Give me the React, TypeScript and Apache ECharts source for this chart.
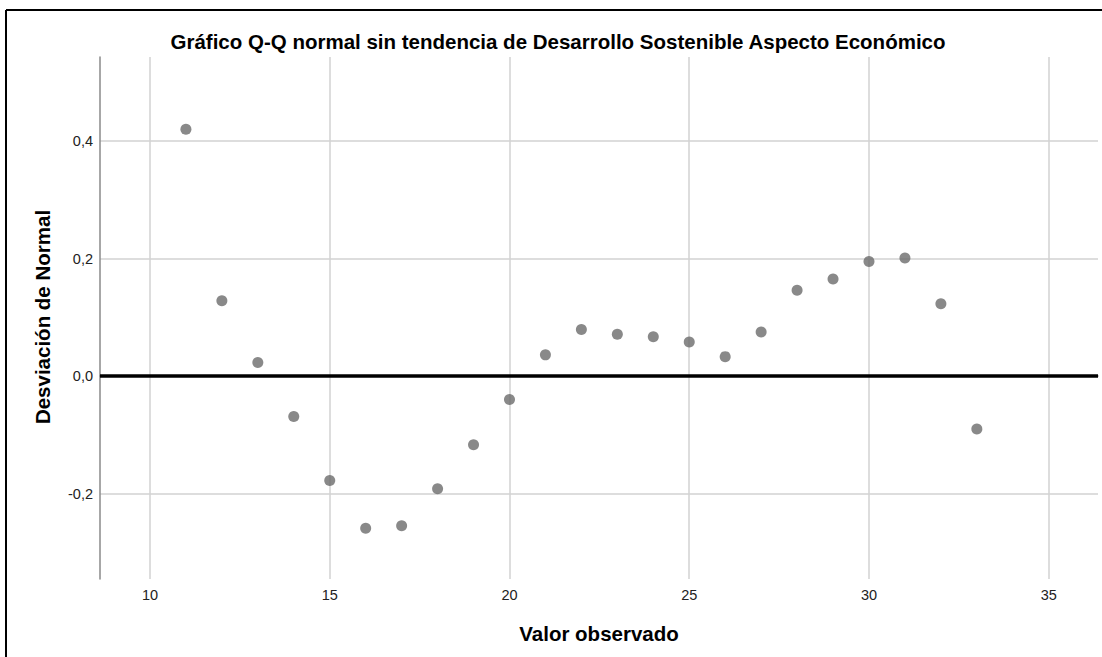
import React, { useEffect, useRef } from "react";
import * as echarts from "echarts";

const titleText = "Gráfico Q-Q normal sin tendencia de Desarrollo Sostenible Aspecto Económico";
const xAxisTitle = "Valor observado";
const yAxisTitle = "Desviación de Normal";

const observedValues = [11, 12, 13, 14, 15, 16, 17, 18, 19, 20, 21, 22, 23, 24, 25, 26, 27, 28, 29, 30, 31, 32, 33];
const deviations = [
  0.42, 0.128, 0.023, -0.069, -0.178, -0.259, -0.255, -0.192, -0.117, -0.04, 0.036, 0.079,
  0.071, 0.067, 0.058, 0.033, 0.075, 0.146, 0.165, 0.195, 0.201, 0.123, -0.09,
];

const xTicks = [10, 15, 20, 25, 30, 35];
const yTicks = [-0.2, 0, 0.2, 0.4];
const xRange = [8.61, 36.37];
const yRange = [-0.3455, 0.543];

export default function App() {
  const ref = useRef<HTMLDivElement>(null);

  useEffect(() => {
    document.body.style.margin = "0";
    if (!ref.current) return;
    const chart = echarts.init(ref.current, null, { renderer: "svg" });
    const font = "Arial, 'Liberation Sans', Helvetica, sans-serif";
    const points = observedValues.map((x, i) => [x, deviations[i]]);

    chart.setOption({
      animation: false,
      backgroundColor: "#ffffff",
      grid: { left: 100, top: 57, right: 4, bottom: 78 },
      xAxis: {
        type: "value",
        min: xRange[0],
        max: xRange[1],
        axisLine: { show: true, lineStyle: { color: "#8a8a8a", width: 1.5 } },
        axisTick: { show: false, customValues: xTicks },
        axisLabel: {
          customValues: xTicks,
          color: "#222",
          fontFamily: font,
          fontSize: 14.5,
          margin: 8,
          formatter: (v: number) => String(Math.round(v)),
        },
        splitLine: { show: true, lineStyle: { color: "#d2d2d2", width: 1.5 } },
      },
      yAxis: {
        type: "value",
        min: yRange[0],
        max: yRange[1],
        axisLine: { show: true, lineStyle: { color: "#8a8a8a", width: 1.5 } },
        axisTick: { show: false, customValues: yTicks },
        axisLabel: {
          customValues: yTicks,
          color: "#222",
          fontFamily: font,
          fontSize: 14.5,
          margin: 7,
          formatter: (v: number) => v.toFixed(1).replace(".", ","),
        },
        splitLine: { show: true, lineStyle: { color: "#d2d2d2", width: 1.5 } },
      },
      series: [
        {
          type: "scatter",
          data: points,
          symbol: "circle",
          symbolSize: 11,
          itemStyle: { color: "#6b6b6b" },
          markLine: {
            silent: true,
            symbol: ["none", "none"],
            label: { show: false },
            lineStyle: { color: "#000", width: 3.5, type: "solid" },
            data: [{ yAxis: 0 }],
          },
          z: 3,
        },
      ],
      graphic: [
        {
          type: "line",
          shape: { x1: 6, y1: 10, x2: 1102, y2: 10 },
          style: { stroke: "#000", lineWidth: 2 },
        },
        {
          type: "line",
          shape: { x1: 6, y1: 10, x2: 6, y2: 657 },
          style: { stroke: "#000", lineWidth: 2 },
        },
        {
          type: "text",
          x: 558,
          y: 41,
          style: {
            text: titleText,
            font: `bold 20.5px ${font}`,
            fill: "#000",
            textAlign: "center",
            textVerticalAlign: "middle",
          },
        },
        {
          type: "text",
          x: 599,
          y: 633,
          style: {
            text: xAxisTitle,
            font: `bold 20.5px ${font}`,
            fill: "#000",
            textAlign: "center",
            textVerticalAlign: "middle",
          },
        },
        {
          type: "text",
          x: 42,
          y: 317,
          rotation: Math.PI / 2,
          style: {
            text: yAxisTitle,
            font: `bold 20.5px ${font}`,
            fill: "#000",
            textAlign: "center",
            textVerticalAlign: "middle",
          },
        },
      ],
    });

    return () => chart.dispose();
  }, []);

  return <div ref={ref} style={{ width: 1102, height: 657 }} />;
}
